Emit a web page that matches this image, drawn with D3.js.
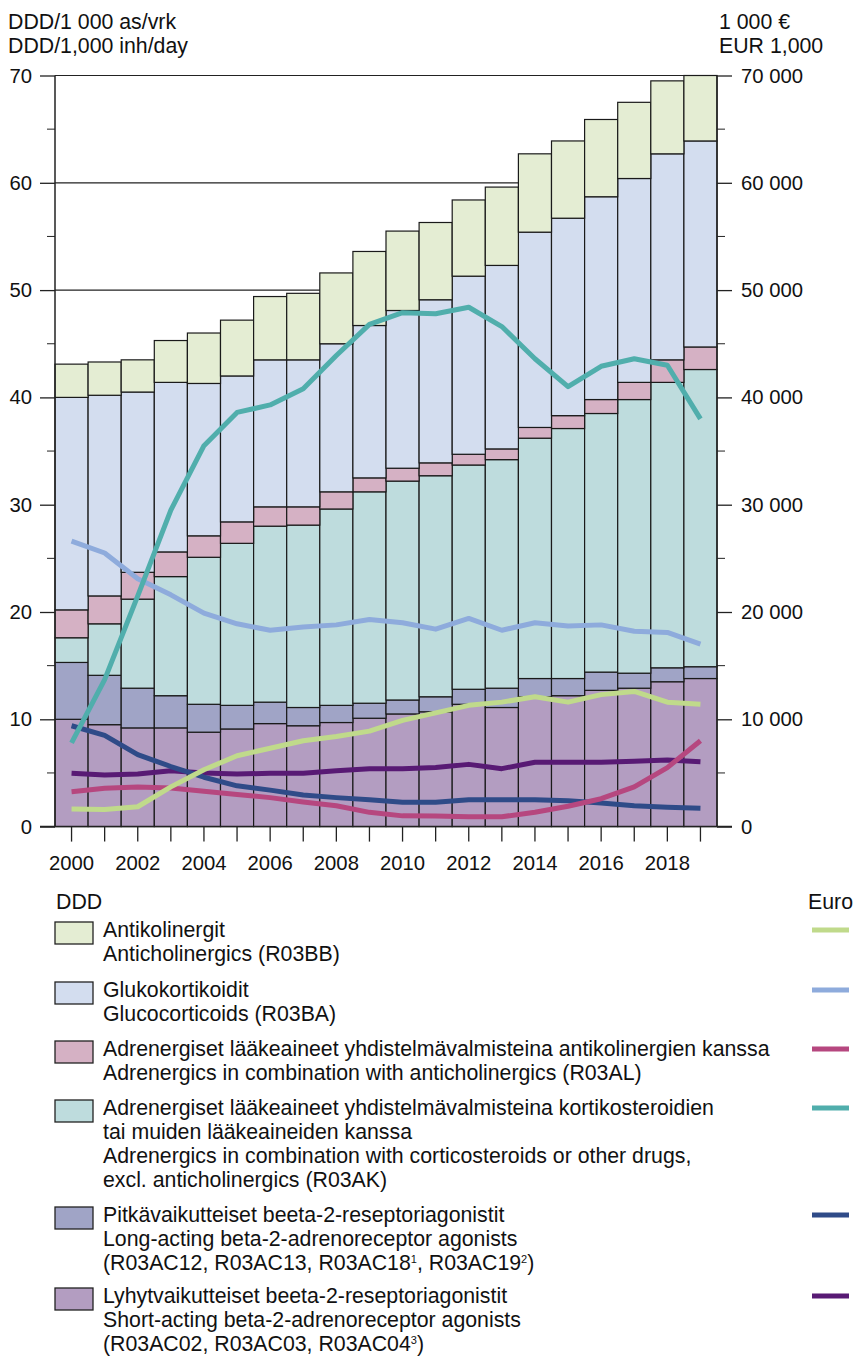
<!DOCTYPE html>
<html>
<head>
<meta charset="utf-8">
<script src="https://cdn.jsdelivr.net/npm/d3@7"></script>
<style>
  body { margin: 0; background: #fff; }
  svg text { font-family: "Liberation Sans", Arial, sans-serif; fill: #111; }
</style>
</head>
<body>
<svg id="chart" width="856" height="1356"></svg>
<script>
const years = d3.range(2000, 2020);

// DDD/1000 inh/day, bottom to top of stack
const shortActing = [10.0, 9.5, 9.2, 9.2, 8.8, 9.1, 9.6, 9.4, 9.7, 10.1, 10.5, 10.7, 11.4, 11.1, 12.1, 12.2, 12.7, 12.9, 13.5, 13.8];
const longActing = [5.3, 4.6, 3.7, 3.0, 2.6, 2.2, 2.0, 1.7, 1.6, 1.4, 1.3, 1.4, 1.4, 1.8, 1.7, 1.6, 1.7, 1.4, 1.3, 1.1];
const combCortico = [2.3, 4.8, 8.3, 11.1, 13.7, 15.1, 16.4, 17.0, 18.3, 19.7, 20.4, 20.6, 20.9, 21.3, 22.4, 23.3, 24.1, 25.5, 26.6, 27.7];
const combAnticho = [2.6, 2.6, 2.5, 2.3, 2.0, 2.0, 1.8, 1.7, 1.6, 1.3, 1.2, 1.2, 1.0, 1.0, 1.0, 1.2, 1.3, 1.6, 2.1, 2.1];
const glucocorticoids = [19.8, 18.7, 16.8, 15.8, 14.2, 13.6, 13.7, 13.7, 13.8, 14.2, 14.7, 15.2, 16.6, 17.1, 18.2, 18.4, 18.9, 19.0, 19.2, 19.2];
const anticholinergics = [3.1, 3.1, 3.0, 3.9, 4.7, 5.2, 5.9, 6.2, 6.6, 6.9, 7.4, 7.2, 7.1, 7.3, 7.3, 7.2, 7.2, 7.1, 6.8, 6.1];

// EUR 1,000
const euroAnticho = [1640, 1600, 1850, 3700, 5300, 6600, 7300, 8000, 8400, 8900, 9900, 10600, 11300, 11600, 12100, 11600, 12300, 12600, 11600, 11400];
const euroGluco = [26600, 25500, 23100, 21600, 19900, 18900, 18300, 18600, 18800, 19300, 19000, 18400, 19400, 18300, 19000, 18700, 18800, 18200, 18100, 17000];
const euroCombAnticho = [3250, 3570, 3700, 3600, 3300, 3000, 2700, 2300, 1950, 1330, 1000, 990, 920, 920, 1330, 1900, 2600, 3700, 5500, 8000];
const euroCombCortico = [7800, 13700, 21500, 29500, 35500, 38600, 39300, 40800, 43900, 46800, 47900, 47800, 48400, 46600, 43600, 41000, 42900, 43600, 43000, 38000];
const euroLong = [9400, 8500, 6700, 5600, 4600, 3800, 3400, 2950, 2700, 2500, 2260, 2260, 2500, 2500, 2500, 2400, 2200, 1950, 1800, 1700];
const euroShort = [4970, 4800, 4900, 5200, 5000, 4900, 4970, 4970, 5200, 5400, 5400, 5500, 5800, 5400, 6000, 6000, 6000, 6100, 6200, 6050];

const leftTicks = [0, 10, 20, 30, 40, 50, 60, 70];
const rightTicks = [0, 10000, 20000, 30000, 40000, 50000, 60000, 70000];
const xLabels = [2000, 2002, 2004, 2006, 2008, 2010, 2012, 2014, 2016, 2018];

const series = [
  {key: 'short', values: shortActing, euro: euroShort, fill: '#b39dc1', line: '#581a74',
    text: ['Lyhytvaikutteiset beeta-2-reseptoriagonistit', 'Short-acting beta-2-adrenoreceptor agonists', ['(R03AC02, R03AC03, R03AC04', '3', ')']]},
  {key: 'long', values: longActing, euro: euroLong, fill: '#a0a4c6', line: '#2f4b88',
    text: ['Pitkävaikutteiset beeta-2-reseptoriagonistit', 'Long-acting beta-2-adrenoreceptor agonists', ['(R03AC12, R03AC13, R03AC18', '1', ', R03AC19', '2', ')']]},
  {key: 'ak', values: combCortico, euro: euroCombCortico, fill: '#bedcdd', line: '#50aeac',
    text: ['Adrenergiset lääkeaineet yhdistelmävalmisteina kortikosteroidien', 'tai muiden lääkeaineiden kanssa', 'Adrenergics in combination with corticosteroids or other drugs,', 'excl. anticholinergics (R03AK)']},
  {key: 'al', values: combAnticho, euro: euroCombAnticho, fill: '#d5b1c4', line: '#b6477f',
    text: ['Adrenergiset lääkeaineet yhdistelmävalmisteina antikolinergien kanssa', 'Adrenergics in combination with anticholinergics (R03AL)']},
  {key: 'ba', values: glucocorticoids, euro: euroGluco, fill: '#d3ddef', line: '#8eabdc',
    text: ['Glukokortikoidit', 'Glucocorticoids (R03BA)']},
  {key: 'bb', values: anticholinergics, euro: euroAnticho, fill: '#e4edd3', line: '#c0da8b',
    text: ['Antikolinergit', 'Anticholinergics (R03BB)']}
];

const table = years.map(function(yr, i) {
  const row = {year: yr};
  series.forEach(function(s) { row[s.key] = s.values[i]; });
  return row;
});

const svg = d3.select('#chart');
const plotLeft = 55, plotRight = 717, plotTop = 75.5, plotBottom = 826.6;
const textSize = '21.3px';

const x = d3.scaleBand().domain(years).range([plotLeft, plotRight]).padding(0);
const y = d3.scaleLinear().domain([0, 70]).range([plotBottom, plotTop]);
const yEuro = d3.scaleLinear().domain([0, 70000]).range([plotBottom, plotTop]);
const fmt = d3.formatLocale({decimal: ',', thousands: '\u00a0', grouping: [3], currency: ['', '']}).format(',d');

// header labels
function header(xp, yp, t) {
  svg.append('text').attr('x', xp).attr('y', yp).style('font-size', textSize).text(t);
}
header(8, 29, 'DDD/1 000 as/vrk');
header(8, 53, 'DDD/1,000 inh/day');
header(719, 29, '1 000 €');
header(719, 53, 'EUR 1,000');

// gridlines
svg.append('g')
  .selectAll('line')
  .data(leftTicks.slice(1))
  .enter()
  .append('line')
  .attr('x1', plotLeft).attr('x2', plotRight)
  .attr('y1', function(d) { return y(d); })
  .attr('y2', function(d) { return y(d); })
  .attr('stroke', '#222')
  .attr('stroke-width', 1.2);

// stacked bars
const stack = d3.stack().keys(series.map(function(s) { return s.key; }));
const layers = stack(table);

svg.append('g')
  .selectAll('g')
  .data(layers)
  .enter()
  .append('g')
  .attr('fill', function(d, i) { return series[i].fill; })
  .selectAll('rect')
  .data(function(d) { return d; })
  .enter()
  .append('rect')
  .attr('x', function(d) { return x(d.data.year); })
  .attr('width', x.bandwidth())
  .attr('y', function(d) { return y(d[1]); })
  .attr('height', function(d) { return y(d[0]) - y(d[1]); })
  .attr('stroke', '#1a1a1a')
  .attr('stroke-width', 1.2);

// left axis
const leftAxis = d3.axisLeft(y).tickValues(leftTicks).tickSize(15).tickPadding(8).tickFormat(d3.format('d'));
const gl = svg.append('g').attr('transform', 'translate(' + plotLeft + ',0)').call(leftAxis);
gl.append('g')
  .selectAll('line')
  .data([5, 15, 25, 35, 45, 55, 65])
  .enter()
  .append('line')
  .attr('x1', -8).attr('x2', 0)
  .attr('y1', function(d) { return y(d); })
  .attr('y2', function(d) { return y(d); })
  .attr('stroke', '#222');

// right axis
const rightAxis = d3.axisRight(yEuro).tickValues(rightTicks).tickSize(15).tickPadding(9).tickFormat(fmt);
const gr = svg.append('g').attr('transform', 'translate(' + plotRight + ',0)').call(rightAxis);
gr.append('g')
  .selectAll('line')
  .data([5000, 15000, 25000, 35000, 45000, 55000, 65000])
  .enter()
  .append('line')
  .attr('x1', 0).attr('x2', 8)
  .attr('y1', function(d) { return yEuro(d); })
  .attr('y2', function(d) { return yEuro(d); })
  .attr('stroke', '#222');

// bottom axis
const bottomAxis = d3.axisBottom(x).tickSize(15).tickPadding(14)
  .tickFormat(function(d) { return xLabels.indexOf(d) >= 0 ? d : ''; });
const gb = svg.append('g').attr('transform', 'translate(0,' + plotBottom + ')').call(bottomAxis);

[gl, gr, gb].forEach(function(g) {
  g.select('.domain').attr('stroke', '#222').attr('stroke-width', 1.5);
  g.selectAll('.tick line').attr('stroke', '#222').attr('stroke-width', 1.3);
  g.selectAll('.tick text').style('font-size', '20.3px').style('font-family', '"Liberation Sans", Arial, sans-serif').attr('fill', '#111');
});
gl.select('.domain').attr('d', 'M0,' + plotBottom + 'V' + plotTop);
gr.select('.domain').attr('d', 'M0,' + plotBottom + 'V' + plotTop);
gb.select('.domain').attr('d', 'M' + (plotLeft - 15) + ',0H' + (plotRight + 15));

// euro lines
const line = d3.line()
  .x(function(d, i) { return x(years[i]) + x.bandwidth() / 2; })
  .y(function(d) { return yEuro(d); });

const lineOrder = ['short', 'long', 'al', 'bb', 'ba', 'ak'];
svg.append('g')
  .selectAll('path')
  .data(lineOrder.map(function(k) { return series.find(function(s) { return s.key === k; }); }))
  .enter()
  .append('path')
  .attr('d', function(d) { return line(d.euro); })
  .attr('fill', 'none')
  .attr('stroke', function(d) { return d.line; })
  .attr('stroke-width', 5)
  .attr('stroke-linejoin', 'round');

// legend
const legend = svg.append('g');
legend.append('text').attr('x', 56).attr('y', 909).style('font-size', textSize).text('DDD');
legend.append('text').attr('x', 808).attr('y', 909).style('font-size', textSize).text('Euro');

const rowBase = [937, 997, 1056, 1115, 1222, 1303];
const legendSeries = series.slice().reverse();

legendSeries.forEach(function(s, i) {
  const b = rowBase[i];
  legend.append('rect')
    .attr('x', 55).attr('y', b - 15)
    .attr('width', 38).attr('height', 22)
    .attr('fill', s.fill)
    .attr('stroke', '#222')
    .attr('stroke-width', 1.3);
  legend.append('line')
    .attr('x1', 812).attr('x2', 849)
    .attr('y1', b - 7).attr('y2', b - 7)
    .attr('stroke', s.line)
    .attr('stroke-width', 5);
  s.text.forEach(function(t, j) {
    const el = legend.append('text').attr('x', 103).attr('y', b + j * 24).style('font-size', textSize);
    if (Array.isArray(t)) {
      t.forEach(function(part, k) {
        const sup = k % 2 === 1;
        el.append('tspan')
          .attr('dy', sup ? -7 : (k > 0 ? 7 : 0))
          .style('font-size', sup ? '11px' : textSize)
          .text(part);
      });
    } else {
      el.text(t);
    }
  });
});
</script>
</body>
</html>
